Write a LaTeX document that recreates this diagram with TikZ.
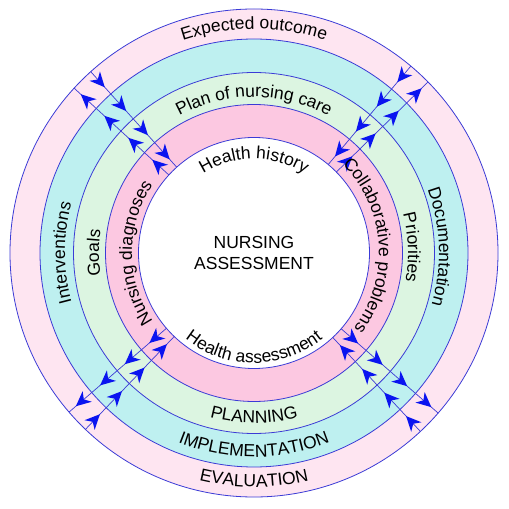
\documentclass[tikz,border=0pt]{standalone}
\usepackage{fontspec}
\setmainfont{Liberation Sans}
\usetikzlibrary{decorations.text,calc}
\definecolor{ringE}{HTML}{FEE5F1}
\definecolor{ringI}{HTML}{BEF0F0}
\definecolor{ringP}{HTML}{DCF5E1}
\definecolor{ringA}{HTML}{FCC8E1}
\definecolor{rimblue}{HTML}{3B3BD6}
\definecolor{tipblue}{HTML}{0A14F0}
\newcommand\dfont{\fontsize{17.5}{21}\selectfont}
\begin{document}
\begin{tikzpicture}[x=1pt,y=1pt,
  ring/.style={draw=rimblue,line width=0.8pt},
  arctext/.style={decorate,decoration={text along path,text align=center,text={|\dfont|#1}}},
  linkline/.style={draw=rimblue,line width=0.7pt},
  bluehead/.style={fill=tipblue}
]
\useasboundingbox (0,0) rectangle (509,509);
\coordinate (C) at (254,256);
% rings
\draw[ring,fill=ringE] (C) circle[radius=244];
\draw[ring,fill=ringI] (C) circle[radius=214];
\draw[ring,fill=ringP] (C) circle[radius=180.5];
\draw[ring,fill=ringA] (C) circle[radius=148.5];
\draw[ring,fill=white] (C) circle[radius=115.5];
% inward arrow lines
\foreach \nm/\ang in {tl/132, tr/50, bl/226.3, br/313}{
  \coordinate (\nm InO) at ($(C)+(\ang:244)$);
  \coordinate (\nm InI) at ($(C)+(\ang:115.5)$);
  \draw[linkline] (\nm InO) -- (\nm InI);
  \foreach \r in {223,191,158.5,126}{
    \begin{scope}[shift={($(C)+(\ang:\r)$)},rotate=\ang+180]
      \fill[bluehead] (0,0) -- (-15,7) -- (-10.5,0) -- (-15,-7) -- cycle;
    \end{scope}
  }
}
% outward arrow lines
\foreach \nm/\ang in {tl/137.5, tr/44.5, bl/220.7, br/319}{
  \coordinate (\nm OutI) at ($(C)+(\ang:115.5)$);
  \coordinate (\nm OutO) at ($(C)+(\ang:244)$);
  \draw[linkline] (\nm OutI) -- (\nm OutO);
  \foreach \r in {138,170.5,203,235}{
    \begin{scope}[shift={($(C)+(\ang:\r)$)},rotate=\ang]
      \fill[bluehead] (0,0) -- (-15,7) -- (-10.5,0) -- (-15,-7) -- cycle;
    \end{scope}
  }
}
% top texts
\path[arctext={Expected outcome}] ($(C)+(150:224)$) arc[start angle=150,end angle=30,radius=224];
\path[arctext={Plan of nursing care}] ($(C)+(160:156)$) arc[start angle=160,end angle=20,radius=156];
\path[arctext={Health history}] ($(C)+(170:94)$) arc[start angle=170,end angle=10,radius=94];
% bottom texts
\path[arctext={EVALUATION}] ($(C)+(210:234)$) arc[start angle=210,end angle=330,radius=234];
\path[arctext={IMPLEMENTATION}] ($(C)+(205:204)$) arc[start angle=205,end angle=335,radius=204];
\path[arctext={PLANNING}] ($(C)+(210:170)$) arc[start angle=210,end angle=330,radius=170];
\path[arctext={Health assessment}] ($(C)+(190:110)$) arc[start angle=190,end angle=350,radius=110];
% left texts
\path[arctext={Interventions}] ($(C)+(240:189)$) arc[start angle=240,end angle=120,radius=189];
\path[arctext={Goals}] ($(C)+(240:155)$) arc[start angle=240,end angle=120,radius=155];
\path[arctext={Nursing diagnoses}] ($(C)+(250:122)$) arc[start angle=250,end angle=110,radius=122];
% right texts
\path[arctext={Documentation}] ($(C)+(62:185)$) arc[start angle=62,end angle=-58,radius=185];
\path[arctext={Priorities}] ($(C)+(62:154)$) arc[start angle=62,end angle=-58,radius=154];
\path[arctext={Collaborative problems}] ($(C)+(74:125)$) arc[start angle=74,end angle=-66,radius=125];
% centre
\node[font=\dfont,align=center] (centre) at (C) {NURSING\\ASSESSMENT};
\end{tikzpicture}
\end{document}
